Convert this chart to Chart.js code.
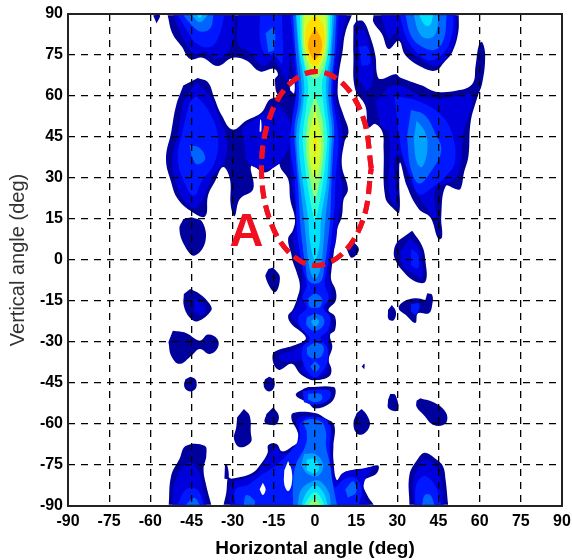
<!DOCTYPE html>
<html><head><meta charset="utf-8">
<script src="https://cdn.jsdelivr.net/npm/chart.js@4/dist/chart.umd.min.js"></script>
<style>html,body{margin:0;padding:0;background:#fff}canvas{display:block;filter:blur(0.5px)}</style>
</head><body><canvas id="c" width="572" height="560"></canvas>
<script>
const xTicks=[-90,-75,-60,-45,-30,-15,0,15,30,45,60,75,90];
const yTicks=[-90,-75,-60,-45,-30,-15,0,15,30,45,60,75,90];
const xTitle="Horizontal angle (deg)";
const yTitle="Vertical angle (deg)";
const levelColors=["#00009c","#0000dc","#0018ff","#0064ff","#00a4ff","#00e0ff","#30ffd0","#90ff70","#d0ff30","#ffe000","#ffa800"];
// contour regions per level, each a flat list x,y,x,y,... in degrees
const level1=[
[13.4,89.5,11,83,10,76,8.8,69,8.3,64,8.5,59,10.4,53,12.2,47,10.7,43,9.8,34.5,12,26,10.4,22,9.8,16,8,11,6.7,1.5,6,-3.7,5.9,-7.3,7.5,-11,7.5,-15,4.9,-18.3,7.3,-20.7,7.3,-25.6,5.5,-27.4,6.3,-31.7,5,-36.6,6,-40.2,5,-42.7,0,-44,-2.4,-43.5,-5.5,-41.5,-8.5,-38,-12.8,-40.2,-14.6,-39,-15.5,-35.4,-14.6,-33.5,-7,-31,-3.4,-29,-4.3,-27,-8.5,-23.5,-9.8,-20.5,-8,-18,-6.5,-14,-5.5,-9.5,-6.7,-4.5,-8.3,0,-8.5,1.6,-9.8,7.7,-8,11,-7.3,15,-9,22,-9.8,29.6,-12.8,34.5,-13,45,-14,55,-13.5,62,-13,89.5],
[-53.7,89.5,-52,83,-48.5,78,-45.5,73.5,-41,74,-35.5,71,-30,74,-25,73,-20,69,-15,70,-13.5,68,-14.6,66,-13,60,-5,60,-5,89.5],
[-42.7,66.6,-39,65,-36.6,59,-34,53,-30,47.7,-25,51,-19.5,54,-16,59,-10,58,-10,36,-13.4,35,-18.3,32,-23.2,34.5,-22.5,26,-27.4,22.3,-29.3,16,-30.7,20,-31,29.6,-33.5,34,-36.6,28.4,-39,23.5,-40,16,-44.5,17.4,-50,22.3,-52.4,28.4,-54.3,37,-52.4,46.7,-50.6,56.5,-48,63.8],
[-45,15.6,-41,13.8,-40,6.5,-44,1.6,-47.5,5.2,-49.4,11.3,-48,15],
[15.2,87.6,17.7,87.2,20,82,22,74.8,22.6,68,23.8,66.2,29.3,68,31,66.8,39,63.8,43.9,61.6,51.8,62,57.3,64.4,58.5,71,59.8,79,61,79.6,62,74.8,61,65,59,59,56.7,50.4,55.9,38,54.3,32,53,26,51.2,26,47.6,27,46,16,46.3,8.3,44.9,7.7,42,15.6,37.8,18.7,33.5,27,31,35.7,30.7,28.4,30.7,17.4,28.7,18.7,25.6,23,25,40.6,24.6,46.7,22,49.8,19.5,48.5,18.3,56.5,14.6,62.6,14,74.8,14,85.7],
[52.4,89.5,52.2,83.3,50,76,47,72.3,43.9,69.3,39,70.5,33,74.8,30.5,80.2,26.8,77.2,24.4,82.7,21.3,87,21.3,89.5],
[35.4,10.7,39,5.2,40.2,0,40.2,-8,36,-7.6,31.7,-3.7,29.3,0,28.7,2.8,29.9,6.5,33,9],
[13.4,7.2,16,3.8,13.4,0.8,11.5,4],
[40.9,-12.2,42.7,-12.8,42.7,-16.5,41.5,-19.5,37.5,-19.5,36.6,-23,33,-20,30.5,-17.7,32.3,-15.2,36.6,-14,40.2,-14.6],
[28,-16.5,29.5,-19,28.7,-22,26.8,-21.7,26.6,-18.3],
[17,-39,18,-38,18,-40],
[27.4,-49,29.3,-49.4,30.2,-55,26.8,-54.3,26.6,-51.2],
[38.4,-50.6,43.9,-52.4,47.8,-56,47.6,-59.8,43.3,-60.4,39.6,-56.7,37,-53.7,37,-51.5],
[17,-54.5,18.9,-56.7,20,-60.4,17.7,-63.7,15.2,-63.4,14,-59.8,15.2,-56],
[34.4,-89.5,34.4,-78.7,37.2,-73.2,40,-70.5,44.5,-73.2,46.7,-75.6,47.6,-80.5,48.5,-89.5],
[-45.5,-10.6,-42,-12.4,-38.4,-16,-37.8,-18.5,-42.7,-22.4,-45.7,-21,-47.8,-16.7,-47.8,-12.4],
[-51.8,-25.9,-47,-26.7,-42,-29.5,-39,-27.3,-35.6,-28.9,-35.4,-32,-38.4,-34.4,-42,-32.6,-45,-35,-49.4,-38,-52.4,-35,-53.4,-30],
[-45.4,-42.7,-43.6,-43.6,-43.1,-45.4,-43.6,-47.2,-45.4,-48.1,-47.2,-47.2,-47.7,-45.4,-47.2,-43.6],
[-16.7,-42.7,-15.2,-43.6,-14.7,-45.4,-15.2,-47.2,-16.7,-48.1,-18.2,-47.2,-18.7,-45.4,-18.2,-43.6],
[-15.2,-2.7,-12.8,-6.3,-14.6,-11.8,-18,-6.3,-17,-3.3],
[-15.2,-53.9,-13.2,-57,-14,-60,-15.9,-60.4,-18.3,-59.4,-17.7,-56.3],
[-25.9,-54.5,-23.8,-57,-23.4,-63,-23.4,-66.7,-27.4,-68.5,-29.5,-65.5,-28.7,-61.2,-28.4,-57.6],
[-53.3,-89.5,-52.4,-78.9,-49.4,-72.8,-47,-68,-40.2,-68,-39.6,-71.6,-40.6,-76.5,-39.6,-82.6,-37.8,-89.5],
[-59,89.5,-56.5,89.5,-57.7,86.5],
[-2.4,-46.5,6.7,-46.5,7.5,-48.8,5.5,-52.4,0,-54.3,-2.4,-52.4,-7,-49.4,-4,-47],
[-33.3,-89.5,-32.3,-85,-31.7,-79.5,-30.5,-80,-23,-78,-20,-75,-17.3,-70.7,-17,-67.7,-14,-67.3,-12,-70,-8.5,-68.3,-5.9,-66,-6.7,-62,-8.5,-58.5,-8,-56,0,-56,3.7,-57.9,7,-60.4,6.7,-68.3,6.7,-73,7.9,-80.5,10,-78,13.5,-76.8,18.3,-76.2,23,-75.2,22.5,-78,17.7,-81,19,-86,21.4,-89.5],
[-32.8,-75,-32,-75,-31.5,-80,-33,-80]
];
const level2=[
[11.5,89.5,9.5,80,8,70,7.5,60,9,52,10,46,9,35,10,25,8.5,16,7.5,6,5.5,0,5,-5,6,-13,4,-18,6,-22,5,-28,5,-35,4,-41,1,-43,-2,-43,-5,-40,-4,-37,-12,-37,-13,-35,-6,-32,-3,-28,-7,-23,-8.5,-20,-6.5,-17,-5,-13,-4.5,-8,-5,-3,-7,3,-8,8,-6.5,15,-8,25,-9,35,-9,45,-8,55,-7,60,-8,70,-10,80,-11,89.5],
[-51.8,89.5,-48,81,-44,75.5,-40,76,-36,73.5,-31,77,-29,89.5],
[-28,89.5,-28,79,-24,76,-19,71,-15,73,-10,66,-10,89.5],
[-43.3,65,-38.4,60,-34,50,-32,44,-33,36,-37,31,-41,22,-44,19,-49,24,-52,35,-50,46,-48,58],
[-26.8,48,-18.3,54,-13.4,56.5,-8.5,46.7,-12.8,35.7,-18.3,33.3,-24.4,35.7,-25.6,41.8],
[51.5,89.5,51,80,48,74,44,71,40,72.5,34,77,29.5,83,27,81,24,89.5],
[15.5,84,18,84,20.5,74,21,66,19,62,16,66],
[22,58,29,64,39,60,46,59,57,60,54,46,53,34,50,29,44,26,44,15,40,20,35,28,31.5,38,29,38,29.5,20,27,25,27,46,24,49],
[36,-89.5,36,-80,40,-73,45,-77,47,-89.5],
[-52,-89.5,-51,-81,-46,-74,-42,-78,-41,-84,-39.5,-89.5],
[-44,-14,-40,-17,-41,-20,-44,-19],
[34.5,8,38,4,39,-6.5,36,-5,32,-2,31,3],
[-31,-89.5,-30.5,-82,-26,-80,-21,-78,-17,-72,-14,-68.5,-12,-71,-7.5,-69,-6,-62,-7,-59,-4,-57,4,-58.5,6,-62,6,-72,8,-81,11,-77.5,15,-77,21,-76,18,-81,18,-87,20,-89.5]
];
const level3=[
[8.5,89.5,8,80,7,70,6.5,60,8,50,8.5,42,7.5,30,7.2,20,6.2,10,5,0,4,-5,3.5,-9,5,-14,3,-17.5,5.5,-21,4.5,-26,2,-28.5,4.5,-32,4.5,-37,2.5,-41,0,-43,-2.5,-41,-4.5,-37,-4.5,-32,-2,-28.5,-5,-25,-6,-21,-3,-17.5,-4.5,-14,-3,-9,-4,-5,-5,0,-6.5,10,-7,20,-7.5,30,-9,42,-8.5,50,-7,60,-7,70,-8,80,-9,89.5],
[-50,89.5,-46,83,-43,79,-38,78,-35,82,-33,89.5],
[-20,89.5,-20,80,-18,75,-15,75,-12,72,-12,89.5],
[-43.3,60,-39,55,-35.4,45.5,-36.6,35.7,-41.5,28.4,-44,23.5,-47,27,-50,37,-48,48,-45.7,57.7],
[50.5,89.5,50,83,47,76,42,73,37,76,33,82,31,89.5],
[16,78,19,78,20,72,17,71],
[29,60,38,58,46,53,50,46,51,36,48,31,42,26,38,24,35,30,32,38,30,50],
[36.5,-89.5,37,-82,40,-79,44,-83,46,-89.5],
[-50,-89.5,-47,-84,-43,-84,-40.5,-89.5],
[35,-16,38,-16,37,-20,35,-19],
[35,4,37.5,2,37.5,-3,35,-2],
[-4.5,-48,0,-47.5,5.5,-48,5,-51,0,-53,-4,-52],
[-29,-89.5,-29,-84,-24,-82,-20,-79,-14,-75,-9,-70,-5.5,-65,-5.5,-60,-2,-57.5,5,-59.5,5.3,-70,7,-83,11,-80,15,-80,17,-84,16,-89.5]
];
const level4=[
[7.8,89.5,7,75,6,65,6,58,7,48,6.5,38,6,28,5.5,15,4.5,5,3.5,-2,2,-8,-2,-8,-3.5,-2,-4.5,5,-5.5,15,-6.2,28,-7,38,-7.5,48,-6,58,-6,65,-7,75,-8,89.5],
[-48,89.5,-44,85,-41,83.5,-38,85,-37,89.5],
[-18,83,-15,85,-15,77,-17,76],
[-45.7,42,-42,41,-40,37,-43,35,-45,38],
[48,89.5,47,81,44,77,39,78,35,82,33,89.5],
[35,55,40,53,44,46,46,40,42,32,38,28,35,33,33.5,45],
[39,-89.5,40,-86,42,-86,43.5,-89.5],
[-47,-89.5,-44,-87,-42,-89.5],
[0,-12,2.5,-14,2,-17,0,-17.5,-2,-17,-2.5,-14],
[0,-19.5,3,-21,3,-24,0,-26,-3,-24,-3,-21],
[0,-30,3,-31.5,2.5,-35,0,-36,-2.5,-35,-3,-32],
[0,-37,1.7,-39,0,-41,-1.7,-39],
[-2.5,-49,2,-49,2.5,-51,0,-52,-2.5,-51],
[-8,-89.5,-8,-82,-7,-75,-3.5,-68,-3,-63,-4,-59,2,-59,4,-63,4,-68,5.5,-75,6.5,-82,8,-89.5],
[11,-84,14,-81,15,-85,12,-87],
[-26,-89.5,-25,-86,-22,-88,-22,-89.5]
];
const level5=[
[7,89.5,6,75,5,65,5,58,6.2,48,5.8,38,5.2,28,3.8,15,3,5,2,-3,0,-7,-2,-3,-3,5,-4,15,-5.5,28,-6.5,38,-6.7,48,-5,58,-5,65,-6,75,-7,89.5],
[-45,89.5,-42,87,-39,89.5],
[45,89.5,44,83,41,81,38,83,36,89.5],
[37,51,40,47,41,41,39,34,37,36,36,44],
[0,-21,1.5,-22.5,0,-24.5,-1.5,-22.5],
[-6.3,-89.5,-5,-84,-1,-81,2,-81,5,-85,5.8,-89.5],
[-4,-71,0,-71,3,-75,1,-79,-3,-78,-5,-75]
];
const level6=[
[6.3,89.5,5.5,75,4,65,4.3,57,5.3,47,5,38,4.2,28,2.2,15,1.7,6,0,0,-1.7,6,-2.5,15,-4.4,28,-5.6,38,-5.7,47,-4.3,57,-4,65,-5.5,75,-6.8,89.5],
[43,89.5,42,86,40,86,38,89.5],
[-43,89.5,-42,88.5,-41,89.5],
[-5,-89.5,-3,-85,0,-82.5,3,-85,4.6,-89.5],
[-3,-73,0,-73,1.5,-76,0,-78,-3,-77]
];
const level7=[
[5.5,89.5,5,78,3.5,69,2.5,64,3.2,56,4.4,46,4,38,2.8,28,1,18,0,15,-1,18,-2.8,28,-4,38,-4.4,46,-3.2,56,-2.5,64,-3.5,69,-5,78,-5.5,89.5],
[-3.9,-89.5,-1.5,-86,0,-85,1.5,-86,3.4,-89.5]
];
const level8=[
[4.8,89.5,4.5,78,3,70,0,66.5,-3,70,-4.5,78,-4.8,89.5],
[0,60,2.5,52,3.2,44,2.8,36,1.5,28,0,23,-1.5,28,-2.8,36,-3.2,44,-2.5,52],
[-2.5,-89.5,0,-87.5,2.2,-89.5]
];
const level9=[
[4,89.5,3.8,78,2,71,0,69,-2,71,-3.8,78,-4,89.5],
[0,55,1.8,48,2.2,42,1.5,34,0,30,-1.5,34,-2.2,42,-1.8,48]
];
const level10=[
[1,89,3.2,85,3.3,77,1.5,72,0,71,-1.5,72,-3.3,77,-3.2,85,-1,89],
[0,47,0.7,42,0,38,-0.7,42]
];
const level11=[[0,85,2.2,81,2.4,77,0,73.5,-2.4,77,-2.2,81]];
const levels=[level1,level2,level3,level4,level5,level6,level7,level8,level9,level10,level11];
const holes=[
[-9.8,-73.5,-8.5,-77,-8.5,-82,-9.8,-84.5,-11.2,-82,-11.2,-77],
[-19,-81.5,-18,-84,-19,-86,-20.2,-84],
[-9.5,66,-7.8,66,-7.6,61,-9,62],
[-20,51.5,-19.6,51,-19.6,47,-20.2,47]
];
const ellipseX=[20.5,17.8,10.5,0.5,-9.5,-16.8,-19.5,-16.8,-9.5,0.5,10.5,17.8,20.5];
const ellipseY=[33.5,51.3,64.2,69,64.2,51.3,33.5,15.7,2.8,-2,2.8,15.7,33.5];
const noteText="A", noteX=-25, noteY=10;

const toPts=a=>{const p=[];for(let i=0;i<a.length;i+=2)p.push({x:a[i],y:a[i+1]});return p;};
const datasets=[];
levels.forEach((lv,i)=>lv.forEach(s=>datasets.push({data:toPts(s),showLine:true,fill:'shape',backgroundColor:levelColors[i],borderWidth:0,pointRadius:0,tension:0.4})));
holes.forEach(s=>datasets.push({data:toPts(s),showLine:true,fill:'shape',backgroundColor:'#fff',borderWidth:0,pointRadius:0,tension:0.4}));
datasets.push({data:ellipseX.map((x,i)=>({x,y:ellipseY[i]})),showLine:true,fill:false,borderColor:'#f01020',borderWidth:5,borderDash:[13,7],pointRadius:0,tension:0.36});
datasets.forEach((d,i)=>d.order=datasets.length-i);
const ellipseIdx=datasets.length-1;

const overlay={id:'overlay',afterDraw(ch){
  const {ctx,chartArea:a,scales:{x,y}}=ch;
  ch.getDatasetMeta(ellipseIdx).controller.draw();
  ctx.save();
  ctx.fillStyle='#f01020';ctx.font='bold 47px "Liberation Sans"';ctx.textAlign='center';ctx.textBaseline='middle';
  ctx.fillText(noteText,x.getPixelForValue(noteX),y.getPixelForValue(noteY));
  ctx.strokeStyle='#222';ctx.lineWidth=2;ctx.setLineDash([]);
  ctx.strokeRect(a.left,a.top,a.right-a.left,a.bottom-a.top);
  ctx.restore();
}};
const tickFont={family:'"Liberation Sans"',size:16,weight:'bold'};
new Chart(document.getElementById('c'),{type:'scatter',data:{datasets},plugins:[overlay],options:{
  responsive:false,animation:false,events:[],
  layout:{padding:{top:14,right:10,left:0,bottom:0}},
  plugins:{legend:{display:false},tooltip:{enabled:false}},
  scales:{
    x:{type:'linear',min:-90,max:90,afterFit(s){s.height=54;s.paddingLeft=0;s.paddingRight=0;},afterBuildTicks(s){s.ticks=xTicks.map(v=>({value:v}));},
      grid:{color:'#000',lineWidth:1.3,z:1,drawTicks:false},border:{display:false,dash:[7,6]},
      ticks:{color:'#000',font:tickFont,maxRotation:0,autoSkip:false,padding:6},
      title:{display:true,text:xTitle,color:'#000',font:{family:'"Liberation Sans"',size:19,weight:'bold'},padding:{top:4,bottom:0}}},
    y:{type:'linear',min:-90,max:90,afterFit(s){s.width=68;s.paddingTop=0;s.paddingBottom=0;},afterBuildTicks(s){s.ticks=yTicks.map(v=>({value:v}));},
      grid:{color:'#000',lineWidth:1.3,z:1,drawTicks:false},border:{display:false,dash:[7,6]},
      ticks:{color:'#000',font:tickFont,autoSkip:false,padding:5},
      title:{display:true,text:yTitle,color:'#333',font:{family:'"Liberation Sans"',size:20},padding:{top:6,bottom:4}}}
  }}});
</script></body></html>
